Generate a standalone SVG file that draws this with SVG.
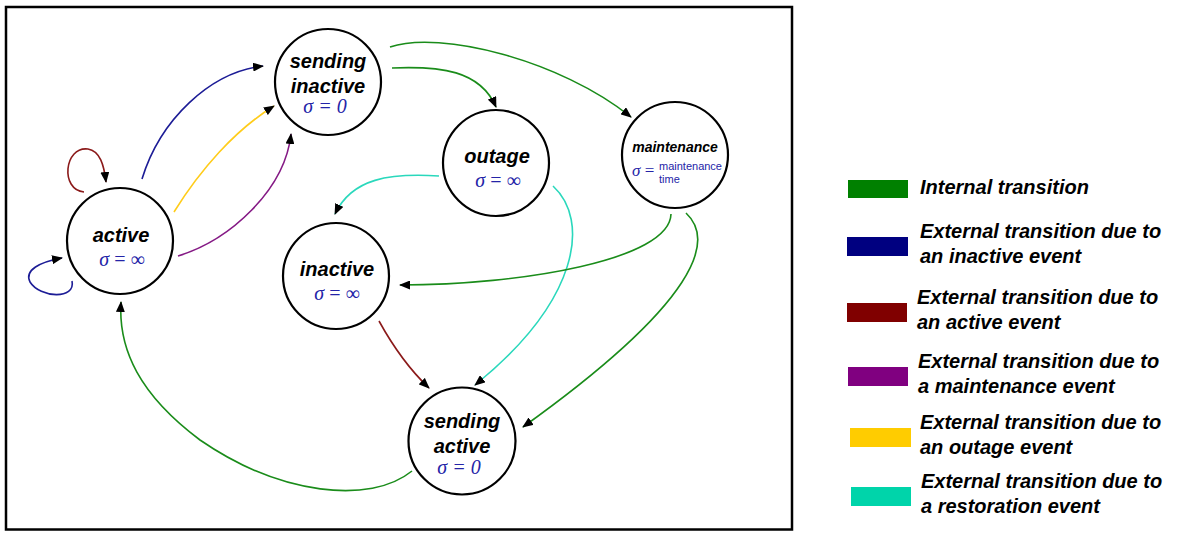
<svg xmlns="http://www.w3.org/2000/svg" width="1196" height="538" viewBox="0 0 1196 538">
<defs>
<marker id="ah" markerWidth="11" markerHeight="9" refX="10" refY="4.5" orient="auto" markerUnits="userSpaceOnUse">
<path d="M0,0 L11,4.5 L0,9 Z" fill="#000"/>
</marker>
<style>
.node circle{fill:#fff;stroke:#000;stroke-width:2.2}
.lbl{font-family:"Liberation Sans",Arial,sans-serif;font-weight:bold;font-style:italic;font-size:20px;fill:#000;text-anchor:middle}
.sig{font-family:"Liberation Serif","Times New Roman",serif;font-size:20px;fill:#2424a8;text-anchor:middle}
.it{font-style:italic}
.small{font-family:"Liberation Sans",Arial,sans-serif;font-size:11px;fill:#2424a8}
.e{fill:none;stroke-width:1.6;marker-end:url(#ah)}
.g{stroke:#1a8c1a}
.b{stroke:#1c1c96}
.r{stroke:#8b1a1a}
.p{stroke:#851a85}
.y{stroke:#ffcc1a}
.t{stroke:#2ad8bc}
.leg{font-family:"Liberation Sans",Arial,sans-serif;font-weight:bold;font-style:italic;font-size:20px;fill:#000}
</style>
</defs>
<rect x="6" y="7" width="786" height="522.5" fill="#fff" stroke="#000" stroke-width="2.5"/>
<g id="connectors">
<path class="e r" d="M84 192 C60 190 64 146 88 149 C100 151 104 165 106 182"/>
<path class="e b" d="M72 281 C76 300 40 298 30 282 C24 270 40 262 62 258"/>
<path class="e b" d="M142 179 C160 120 210 72 263 66"/>
<path class="e y" d="M174 212 C200 170 235 130 274 106"/>
<path class="e p" d="M178 256 C230 240 285 190 291 134"/>
<path class="e g" d="M390 47 C440 30 560 60 631 117"/>
<path class="e g" d="M392 68 C440 66 480 70 496 107"/>
<path class="e t" d="M439 176 C390 173 352 178 335 214"/>
<path class="e t" d="M553 186 C590 220 580 300 475 385"/>
<path class="e g" d="M671 214 C670 260 520 285 400 285"/>
<path class="e g" d="M686 213 C715 240 700 300 523 427"/>
<path class="e r" d="M379 321 C395 350 410 370 429 388"/>
<path class="e g" d="M412 471 C370 505 280 495 200 440 C140 395 118 350 121 302"/>
</g>
<g id="active" class="node">
<circle cx="120" cy="241" r="53"/>
<text class="lbl" x="121" y="242">active</text>
<text class="sig" x="122" y="266"><tspan class="it">σ</tspan> = ∞</text>
</g>
<g id="sending-inactive" class="node">
<circle cx="328" cy="82" r="53"/>
<text class="lbl" x="328" y="68">sending</text>
<text class="lbl" x="328" y="93">inactive</text>
<text class="sig it" x="325" y="113">σ = 0</text>
</g>
<g id="outage" class="node">
<circle cx="496" cy="163" r="53"/>
<text class="lbl" x="497" y="163">outage</text>
<text class="sig" x="498" y="187"><tspan class="it">σ</tspan> = ∞</text>
</g>
<g id="maintenance" class="node">
<circle cx="675" cy="155" r="53"/>
<text class="lbl" x="675" y="152" style="font-size:14px">maintenance</text>
<text class="sig" x="632" y="176" style="text-anchor:start;font-size:17px"><tspan class="it">σ</tspan> =</text>
<text class="small" x="659" y="170">maintenance</text>
<text class="small" x="659" y="183">time</text>
</g>
<g id="inactive" class="node">
<circle cx="336" cy="276" r="53"/>
<text class="lbl" x="337" y="276">inactive</text>
<text class="sig" x="337" y="300"><tspan class="it">σ</tspan> = ∞</text>
</g>
<g id="sending-active" class="node">
<circle cx="462" cy="441" r="53.5"/>
<text class="lbl" x="462" y="428">sending</text>
<text class="lbl" x="462" y="453">active</text>
<text class="sig it" x="459" y="474">σ = 0</text>
</g>
<g id="legend">
<rect x="848" y="180" width="60" height="18" fill="#008000"/>
<text class="leg" x="920" y="194">Internal transition</text>
<rect x="847" y="237" width="61" height="19" fill="#000080"/>
<text class="leg" x="920" y="238">External transition due to</text>
<text class="leg" x="920" y="263">an inactive event</text>
<rect x="847" y="303" width="60" height="19" fill="#800000"/>
<text class="leg" x="917" y="304">External transition due to</text>
<text class="leg" x="917" y="329">an active event</text>
<rect x="848" y="367" width="60" height="19" fill="#800080"/>
<text class="leg" x="918" y="368">External transition due to</text>
<text class="leg" x="918" y="393">a maintenance event</text>
<rect x="850" y="428" width="61" height="19" fill="#ffcc00"/>
<text class="leg" x="920" y="429">External transition due to</text>
<text class="leg" x="920" y="454">an outage event</text>
<rect x="851" y="487" width="60" height="19" fill="#00d4aa"/>
<text class="leg" x="921" y="488">External transition due to</text>
<text class="leg" x="921" y="513">a restoration event</text>
</g>
</svg>
